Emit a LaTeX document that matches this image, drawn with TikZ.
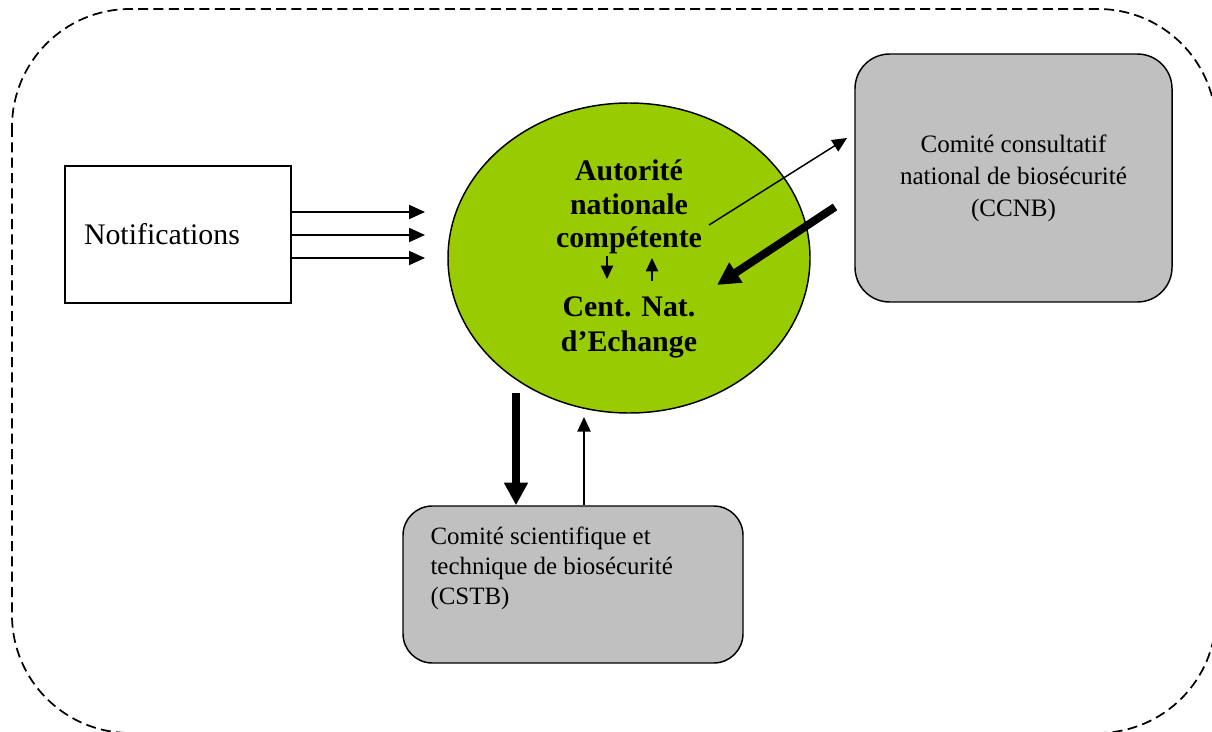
\documentclass[tikz,border=0pt]{standalone}
\usepackage{fontspec}
\setmainfont{Liberation Serif}
\usetikzlibrary{shapes.geometric,arrows.meta}

\tikzset{every picture/.style={line width=0.75pt}}
\definecolor{ancgreen}{RGB}{153,204,0}
\definecolor{cmtgray}{RGB}{192,192,192}

\begin{document}
\begin{tikzpicture}[x=0.75pt,y=0.75pt,yscale=-1,xscale=1,
  boxline/.style={draw=black,line width=1.1pt},
  notarr/.style={line width=1.5pt,-{Triangle[length=12pt,width=10.5pt]}},
  thinarr/.style={line width=1.1pt,-{Triangle[length=11pt,width=10pt]}},
  thickarr/.style={line width=6pt,-{Triangle[length=17pt,width=17pt]}},
  tinyarr/.style={line width=1.5pt,-{Triangle[length=10pt,width=9pt]}}]
\useasboundingbox (0,0) rectangle (1212,731);

%Shape: dashed frame, cut by the page
\begin{scope}
\clip (0,0) rectangle (1212,731);
\draw [dash pattern=on 7.5pt off 4pt, line width=1.3pt, rounded corners=88.5pt] (12,9) rectangle (1216,733);
\end{scope}

% Notifications box
\node (notif) [boxline, rectangle, minimum width=169.5pt, minimum height=102.75pt, text width=141pt, inner xsep=14.25pt, align=left, font=\fontsize{22.4}{27}\selectfont] at (178,234.5) {Notifications};

% Ellipse: autorite nationale
\node (anc) [boxline, ellipse, fill=ancgreen, minimum width=271.5pt, minimum height=232.5pt, inner sep=0pt] at (629,258) {};
\node (anctxt) [align=center, inner sep=0pt, font=\bfseries\fontsize{22.4}{25.2}\selectfont] at (629,207) {Autorité\\nationale\\compétente};
\node (cnetxt) [align=center, inner sep=0pt, font=\bfseries\fontsize{22.4}{26.2}\selectfont] at (629,327.5) {Cent. Nat.\\d’Echange};

% CCNB
\node (ccnb) [boxline, rectangle, rounded corners=26pt, fill=cmtgray, minimum width=237.75pt, minimum height=186pt, align=center, font=\fontsize{18.8}{24}\selectfont] at (1013.5,178) {Comité consultatif\\national de biosécurité\\(CCNB)};

% CSTB
\node (cstb) [boxline, rectangle, rounded corners=22pt, fill=cmtgray, minimum width=255pt, minimum height=117.75pt] at (573,584.5) {};
\node (cstbtxt) [anchor=north west, align=left, inner sep=0pt, font=\fontsize{18.7}{22.5}\selectfont] at (430,526) {Comité scientifique et\\technique de biosécurité\\(CSTB)};

% arrow ends
\coordinate (n1) at (425,212);
\coordinate (n2) at (425,235);
\coordinate (n3) at (425,258);
\coordinate (ccout) at (709,225);
\coordinate (ccin) at (847,138);
\coordinate (cbout) at (835,207);
\coordinate (cbin) at (717,285);
\coordinate (stdown) at (516,393);
\coordinate (stup) at (584,417);
\coordinate (sa1) at (607,256);
\coordinate (sa2) at (607,279);
\coordinate (sb1) at (652,281);
\coordinate (sb2) at (652,258);

% Notifications to ellipse
\draw [notarr] (notif.east |- n1) -- (n1);
\draw [notarr] (notif.east |- n2) -- (n2);
\draw [notarr] (notif.east |- n3) -- (n3);

% ellipse and CCNB
\draw [thinarr] (ccout) -- (ccin);
\draw [thickarr] (cbout) -- (cbin);

% ellipse and CSTB
\draw [thickarr] (stdown) -- (stdown |- cstb.north);
\draw [thinarr] (stup |- cstb.north) -- (stup);

% inside the ellipse
\draw [tinyarr] (sa1) -- (sa2);
\draw [tinyarr] (sb1) -- (sb2);

\end{tikzpicture}
\end{document}
